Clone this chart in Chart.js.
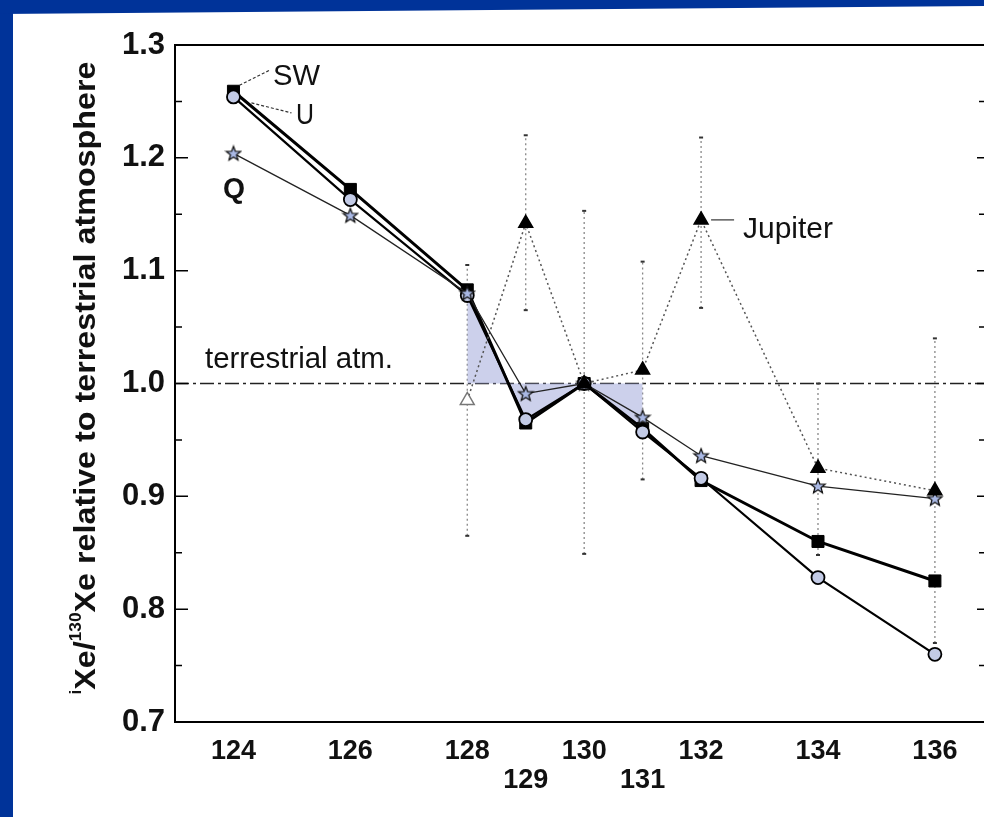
<!DOCTYPE html>
<html>
<head>
<meta charset="utf-8">
<script src="https://cdn.jsdelivr.net/npm/chart.js@4.4.0/dist/chart.umd.min.js"></script>
<style>
html, body { margin: 0; padding: 0; background: #fff; overflow: hidden; }
#wrap { position: relative; width: 984px; height: 817px; }
</style>
</head>
<body>
<div id="wrap"><canvas id="myChart" width="984" height="817"></canvas></div>
<script>
// isotope masses on the x axis
const isotopes = [124, 126, 128, 129, 130, 131, 132, 134, 136];
const lowerRowLabels = [129, 131];
const yTicks = [0.7, 0.8, 0.9, 1.0, 1.1, 1.2, 1.3];

// iXe/130Xe relative to terrestrial atmosphere
const swValues = [1.259, 1.172, 1.083, 0.965, 1.0, 0.960, 0.914, 0.860, 0.825];
const uValues = [1.254, 1.163, 1.078, 0.968, 1.0, 0.957, 0.916, 0.828, 0.760];
const qValues = [1.204, 1.149, 1.080, 0.991, 1.0, 0.970, 0.936, 0.909, 0.898];
const jupiterValues = [null, null, 0.985, 1.142, 1.0, 1.012, 1.145, 0.925, 0.905];
const jupiterLow = [null, null, 0.865, 1.065, 0.849, 0.915, 1.067, 0.848, 0.770];
const jupiterHigh = [null, null, 1.105, 1.220, 1.153, 1.108, 1.218, 1.0, 1.040];
const jupiterOpen = [128];
const shadedRange = [128, 131];
const terrestrialLevel = 1.0;

const FONT = "'Liberation Sans', Arial, Helvetica, sans-serif";

function pts(values) {
    return isotopes.map((x, i) => ({ x: x, y: values[i] }));
}

// five pointed star marker for Q
function makeStar() {
    const c = document.createElement('canvas');
    c.width = 18; c.height = 18;
    const g = c.getContext('2d');
    g.beginPath();
    for (let k = 0; k < 10; k++) {
        const r = k % 2 === 0 ? 7.5 : 3.2;
        const a = -Math.PI / 2 + k * Math.PI / 5;
        const px = 9 + r * Math.cos(a), py = 9.5 + r * Math.sin(a);
        if (k === 0) g.moveTo(px, py); else g.lineTo(px, py);
    }
    g.closePath();
    g.fillStyle = '#a9b8e4';
    g.fill();
    g.lineWidth = 1.3;
    g.strokeStyle = '#111';
    g.stroke();
    return c;
}

function fitText(ctx, text, x, y, width, font) {
    ctx.save();
    ctx.font = font;
    const w = ctx.measureText(text).width;
    ctx.translate(x, y);
    ctx.scale(width / w, 1);
    ctx.textAlign = 'left';
    ctx.fillText(text, 0, 0);
    ctx.restore();
}

const decor = {
    id: 'decor',
    beforeDraw(chart) {
        const ctx = chart.ctx;
        ctx.save();
        ctx.fillStyle = '#ffffff';
        ctx.fillRect(0, 0, chart.width, chart.height);
        ctx.fillStyle = '#003399';
        ctx.fillRect(0, 0, 13, chart.height);
        ctx.beginPath();
        ctx.moveTo(0, 0);
        ctx.lineTo(chart.width, 0);
        ctx.lineTo(chart.width, 6);
        ctx.lineTo(0, 14);
        ctx.closePath();
        ctx.fill();
        ctx.restore();
    },
    beforeDatasetsDraw(chart) {
        const ctx = chart.ctx, xs = chart.scales.x, ys = chart.scales.y, a = chart.chartArea;
        ctx.save();
        // terrestrial reference line
        const yRef = ys.getPixelForValue(terrestrialLevel);
        ctx.strokeStyle = '#222';
        ctx.lineWidth = 1.5;
        ctx.setLineDash([14, 4, 3, 4]);
        ctx.beginPath();
        ctx.moveTo(a.left, yRef);
        ctx.lineTo(a.right, yRef);
        ctx.stroke();

        // Jupiter error bars
        ctx.strokeStyle = '#888';
        ctx.lineWidth = 1.3;
        ctx.setLineDash([2, 3]);
        isotopes.forEach((m, i) => {
            if (jupiterLow[i] == null) return;
            const x = xs.getPixelForValue(m);
            ctx.beginPath();
            ctx.moveTo(x, ys.getPixelForValue(jupiterLow[i]));
            ctx.lineTo(x, ys.getPixelForValue(jupiterHigh[i]));
            ctx.stroke();
        });
        ctx.setLineDash([]);
        ctx.strokeStyle = '#333';
        ctx.lineWidth = 2;
        isotopes.forEach((m, i) => {
            if (jupiterLow[i] == null) return;
            const x = xs.getPixelForValue(m);
            [jupiterLow[i], jupiterHigh[i]].forEach(v => {
                const y = ys.getPixelForValue(v);
                ctx.beginPath();
                ctx.moveTo(x - 2, y);
                ctx.lineTo(x + 2, y);
                ctx.stroke();
            });
        });

        // frame top and inward ticks
        ctx.strokeStyle = '#000';
        ctx.lineWidth = 2;
        ctx.beginPath();
        ctx.moveTo(a.left, a.top);
        ctx.lineTo(a.right, a.top);
        ctx.stroke();
        ctx.lineWidth = 1.5;
        for (let i = 0; i < yTicks.length; i++) {
            const y = ys.getPixelForValue(yTicks[i]);
            ctx.beginPath();
            ctx.moveTo(a.left, y); ctx.lineTo(a.left + 13, y);
            ctx.moveTo(a.right - 7, y); ctx.lineTo(a.right, y);
            ctx.stroke();
            if (i < yTicks.length - 1) {
                const ym = ys.getPixelForValue((yTicks[i] + yTicks[i + 1]) / 2);
                ctx.beginPath();
                ctx.moveTo(a.left, ym); ctx.lineTo(a.left + 7, ym);
                ctx.moveTo(a.right - 5, ym); ctx.lineTo(a.right, ym);
                ctx.stroke();
            }
        }
        ctx.restore();
    },
    afterDraw(chart) {
        const ctx = chart.ctx, xs = chart.scales.x, ys = chart.scales.y;
        ctx.save();
        ctx.fillStyle = '#111';
        ctx.textBaseline = 'alphabetic';

        // rotated y title with superscripts
        const parts = [
            { t: 'i', sup: true },
            { t: 'Xe/', sup: false },
            { t: '130', sup: true },
            { t: 'Xe relative to terrestrial atmosphere', sup: false }
        ];
        const big = 'bold 30px ' + FONT, small = 'bold 16px ' + FONT;
        let total = 0;
        parts.forEach(p => { ctx.font = p.sup ? small : big; p.w = ctx.measureText(p.t).width; total += p.w; });
        ctx.translate(95, 378);
        ctx.rotate(-Math.PI / 2);
        ctx.scale(633 / total, 1);
        let cx = -total / 2;
        parts.forEach(p => {
            ctx.font = p.sup ? small : big;
            ctx.fillText(p.t, cx, p.sup ? -14 : 0);
            cx += p.w;
        });
        ctx.restore();

        ctx.save();
        ctx.fillStyle = '#111';
        ctx.textBaseline = 'alphabetic';
        fitText(ctx, 'terrestrial atm.', 205, 368, 188, '29px ' + FONT);

        // series labels with leader lines
        const x124 = xs.getPixelForValue(isotopes[0]);
        const ySW = ys.getPixelForValue(swValues[0]);
        const yU = ys.getPixelForValue(uValues[0]);
        ctx.strokeStyle = '#333';
        ctx.lineWidth = 1.2;
        ctx.setLineDash([3, 2]);
        ctx.beginPath();
        ctx.moveTo(x124 + 6, ySW - 6); ctx.lineTo(x124 + 36, ySW - 21);
        ctx.moveTo(x124 + 18, yU + 6); ctx.lineTo(x124 + 58, yU + 16);
        ctx.stroke();
        ctx.setLineDash([]);
        fitText(ctx, 'SW', 273, 85, 47, '29px ' + FONT);
        fitText(ctx, 'U', 296, 124, 18, '29px ' + FONT);
        fitText(ctx, 'Q', 223, 198, 22, 'bold 29px ' + FONT);

        const x132 = xs.getPixelForValue(132);
        const yJ = ys.getPixelForValue(jupiterValues[isotopes.indexOf(132)]);
        ctx.beginPath();
        ctx.moveTo(x132 + 10, yJ); ctx.lineTo(x132 + 33, yJ);
        ctx.stroke();
        fitText(ctx, 'Jupiter', 743, 238, 90, '29px ' + FONT);
        ctx.restore();
    }
};

const star = makeStar();
const ctx = document.getElementById('myChart').getContext('2d');

new Chart(ctx, {
    type: 'line',
    data: {
        datasets: [
            {
                label: 'Jupiter',
                data: pts(jupiterValues),
                order: 0,
                borderColor: '#555',
                borderWidth: 1.5,
                borderDash: [2, 3],
                pointStyle: 'triangle',
                pointRadius: 8,
                pointBackgroundColor: c => jupiterOpen.includes(isotopes[c.dataIndex]) ? '#ffffff' : '#000000',
                pointBorderColor: c => jupiterOpen.includes(isotopes[c.dataIndex]) ? '#777' : '#000000',
                pointBorderWidth: 1.5,
                tension: 0
            },
            {
                label: 'Q',
                data: pts(qValues),
                order: 1,
                borderColor: '#222',
                borderWidth: 1.3,
                pointStyle: star,
                tension: 0
            },
            {
                label: 'U',
                data: pts(uValues),
                order: 2,
                borderColor: '#000',
                borderWidth: 2.2,
                pointStyle: 'circle',
                pointRadius: 6.5,
                pointBackgroundColor: '#c3cbe6',
                pointBorderColor: '#000',
                pointBorderWidth: 1.8,
                tension: 0
            },
            {
                label: 'SW',
                data: pts(swValues),
                order: 3,
                borderColor: '#000',
                borderWidth: 3,
                pointStyle: 'rect',
                pointRadius: 8.5,
                pointBackgroundColor: '#000',
                pointBorderColor: '#000',
                pointBorderWidth: 1,
                tension: 0
            },
            {
                label: 'shade',
                data: pts(swValues).filter(p => p.x >= shadedRange[0] && p.x <= shadedRange[1]),
                order: 4,
                borderWidth: 0,
                borderColor: 'rgba(0,0,0,0)',
                backgroundColor: 'rgba(170,176,222,0.6)',
                pointRadius: 0,
                fill: { value: terrestrialLevel },
                tension: 0
            }
        ]
    },
    options: {
        responsive: false,
        animation: false,
        layout: { autoPadding: false, padding: { top: 45, left: 0, right: 0, bottom: 0 } },
        plugins: {
            legend: { display: false },
            tooltip: { enabled: false }
        },
        scales: {
            x: {
                type: 'linear',
                min: 123,
                max: 136.84,
                afterBuildTicks: s => { s.ticks = isotopes.map(v => ({ value: v })); },
                afterFit: s => { s.height = 95; },
                grid: { display: false, drawTicks: false },
                border: { display: true, color: '#000', width: 2 },
                ticks: {
                    autoSkip: false,
                    maxRotation: 0,
                    padding: 15,
                    color: '#111',
                    font: { family: FONT, weight: 'bold', size: 27, lineHeight: 1.07 },
                    callback: v => lowerRowLabels.includes(v) ? ['', String(v)] : String(v)
                }
            },
            y: {
                min: 0.7,
                max: 1.3,
                afterBuildTicks: s => { s.ticks = yTicks.map(v => ({ value: v })); },
                afterFit: s => { s.width = 175; },
                grid: { display: false, drawTicks: false },
                border: { display: true, color: '#000', width: 2 },
                ticks: {
                    padding: 10,
                    color: '#111',
                    font: { family: FONT, weight: 'bold', size: 31 },
                    callback: v => v.toFixed(1)
                }
            }
        }
    },
    plugins: [decor]
});
</script>
</body>
</html>
